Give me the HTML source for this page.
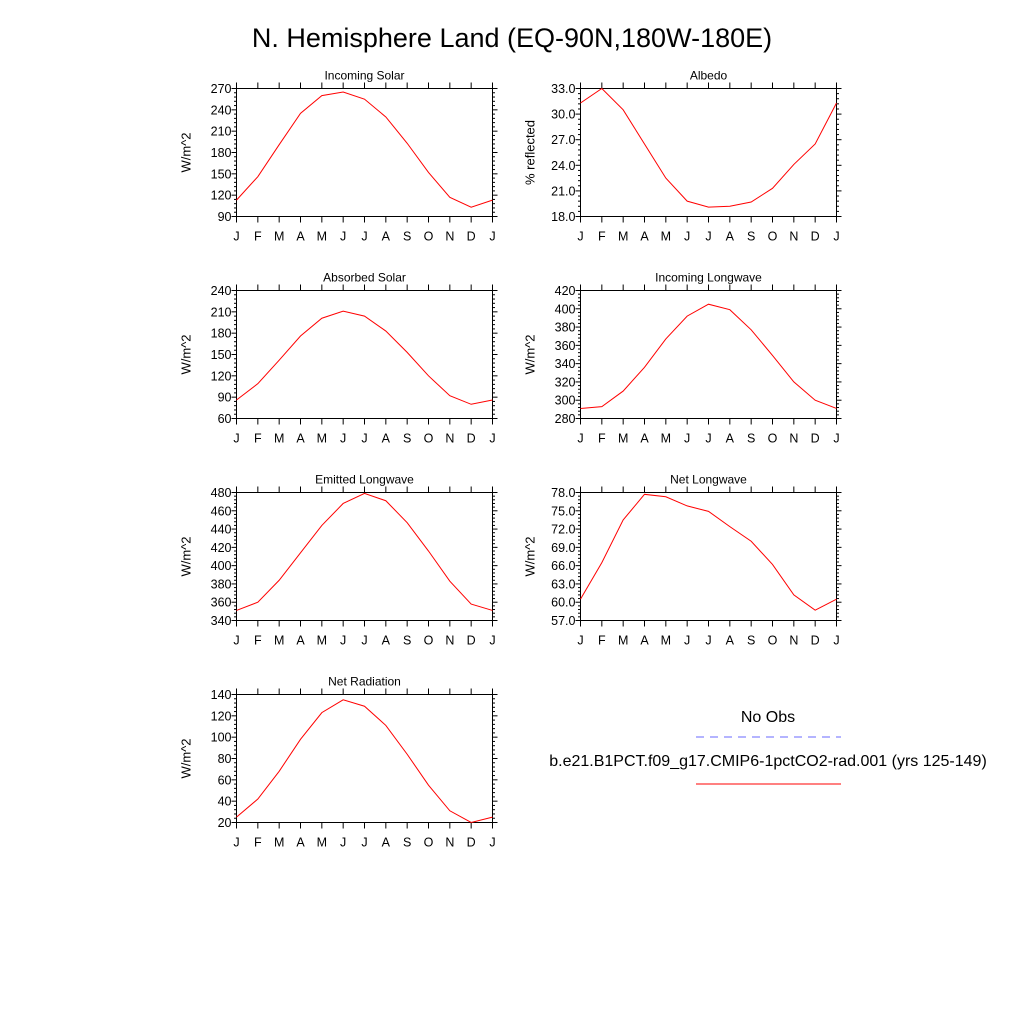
<!DOCTYPE html>
<html><head><meta charset="utf-8"><style>
body{margin:0;background:#fff;width:1024px;height:1024px;overflow:hidden;font-family:"Liberation Sans",sans-serif}
</style></head><body>
<svg id="svg" width="1024" height="1024" xmlns="http://www.w3.org/2000/svg" font-family="Liberation Sans, sans-serif">
<text x="512" y="47" font-size="27" text-anchor="middle">N. Hemisphere Land (EQ-90N,180W-180E)</text>
<g>
<text x="768" y="722" font-size="16" text-anchor="middle">No Obs</text>
<line x1="696" y1="737" x2="841" y2="737" stroke="#6a6aff" stroke-dasharray="8,6"/>
<text x="768" y="766" font-size="16" text-anchor="middle">b.e21.B1PCT.f09_g17.CMIP6-1pctCO2-rad.001 (yrs 125-149)</text>
<line x1="696" y1="784" x2="841" y2="784" stroke="red"/>
</g>
</svg>
<script>
const months = ["J","F","M","A","M","J","J","A","S","O","N","D","J"];
const incomingSolar = [113,146,191,235,260,265,255,230,193,152,117,103,113];
const albedo = [31.3,33.0,30.5,26.5,22.5,19.8,19.1,19.2,19.7,21.3,24.1,26.5,31.3];
const absorbedSolar = [86,109,142,176,201,211,204,183,153,120,92,80,86];
const incomingLW = [291,293,310,336,367,392,405,399,377,349,320,300,291];
const emittedLW = [351,360,384,414,444,468,479,471,447,416,383,358,351];
const netLW = [60.5,66.5,73.5,77.7,77.3,75.8,74.9,72.4,70.0,66.2,61.2,58.7,60.5];
const netRad = [25,42,68,98,123,135,129,111,84,55,31,20,25];
const ticksIS = [90,120,150,180,210,240,270];
const ticksAlb = [18,21,24,27,30,33];
const ticksAS = [60,90,120,150,180,210,240];
const ticksILW = [280,300,320,340,360,380,400,420];
const ticksELW = [340,360,380,400,420,440,460,480];
const ticksNLW = [57,60,63,66,69,72,75,78];
const ticksNR = [20,40,60,80,100,120,140];

const svg=document.getElementById('svg');
const NS='http://www.w3.org/2000/svg';
function mk(tag,attrs,parent){const e=document.createElementNS(NS,tag);for(const k in attrs)e.setAttribute(k,attrs[k]);parent.appendChild(e);return e;}
function panel(name,title,ylab,data,ticks,dec,x0,y0){
  const W=256,H=128;
  const g=mk('g',{},svg);
  
  
  const ymin=ticks[0],ymax=ticks[ticks.length-1];
  const sx=i=>x0+i*W/12, sy=v=>y0+H-(v-ymin)/(ymax-ymin)*H;
  const t=mk('text',{x:x0+W/2,y:y0-9,'font-size':12,'text-anchor':'middle'},g);t.textContent=title;
  
  
  const yl=mk('text',{x:0,y:0,'font-size':13,'text-anchor':'middle',transform:`translate(${x0-46},${y0+H/2}) rotate(-90)`},g);yl.textContent=ylab;
  
  
  const step=(ticks[1]-ticks[0])/5;
  for(let v=ymin;v<=ymax+1e-9;v+=step){
    const y=sy(v);const maj=Math.abs(((v-ymin)/(ticks[1]-ticks[0]))-Math.round((v-ymin)/(ticks[1]-ticks[0])))<1e-6;
    const L=maj?5:2.5;
    mk('line',{x1:x0-L,y1:y,x2:x0,y2:y,stroke:'#000'},g);
    mk('line',{x1:x0+W,y1:y,x2:x0+W+L,y2:y,stroke:'#000'},g);
  }
  ticks.forEach(v=>{const tt=mk('text',{x:x0-5,y:sy(v)+4.5,'font-size':12.5,'text-anchor':'end'},g);tt.textContent=v.toFixed(dec);
    
    });
  months.forEach((m,i)=>{const x=sx(i);
    mk('line',{x1:x,y1:y0-6,x2:x,y2:y0,stroke:'#000'},g);
    mk('line',{x1:x,y1:y0+H,x2:x,y2:y0+H+6,stroke:'#000'},g);
    const tt=mk('text',{x:x,y:y0+H+24,'font-size':12.5,'text-anchor':'middle'},g);tt.textContent=m;
    
    });
  const r=mk('rect',{x:x0,y:y0,width:W,height:H,fill:'none',stroke:'#000'},g);
  
  
  const pl=mk('polyline',{points:data.map((v,i)=>sx(i)+','+sy(v)).join(' '),fill:'none',stroke:'red','stroke-width':1},g);
  
  
}
panel('incoming-solar','Incoming Solar','W/m^2',incomingSolar,ticksIS,0,236.5,88.5);
panel('albedo','Albedo','% reflected',albedo,ticksAlb,1,580.5,88.5);
panel('absorbed-solar','Absorbed Solar','W/m^2',absorbedSolar,ticksAS,0,236.5,290.5);
panel('incoming-longwave','Incoming Longwave','W/m^2',incomingLW,ticksILW,0,580.5,290.5);
panel('emitted-longwave','Emitted Longwave','W/m^2',emittedLW,ticksELW,0,236.5,492.5);
panel('net-longwave','Net Longwave','W/m^2',netLW,ticksNLW,1,580.5,492.5);
panel('net-radiation','Net Radiation','W/m^2',netRad,ticksNR,0,236.5,694.5);
</script>
</body></html>
